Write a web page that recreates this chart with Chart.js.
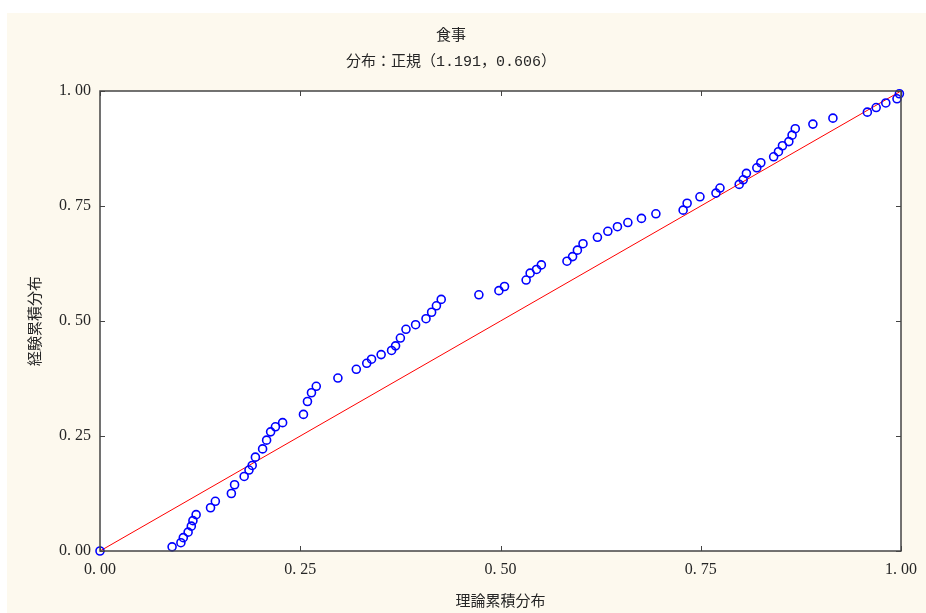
<!DOCTYPE html>
<html>
<head>
    <meta charset="utf-8">
    <title>食事 P-P</title>
    <script src="https://cdn.jsdelivr.net/npm/chart.js@4/dist/chart.umd.min.js"></script>
    <style>
        body { margin: 0; background: #ffffff; }
        #wrap { position: absolute; left: 0; top: 0; width: 926px; height: 613px; }
    </style>
</head>
<body>
<div id="wrap"><canvas id="myChart" width="926" height="613"></canvas></div>
<script>
    var theoretical = [0.000, 0.090, 0.101, 0.104, 0.110, 0.114, 0.116, 0.120, 0.138, 0.144,
        0.164, 0.168, 0.180, 0.186, 0.190, 0.194, 0.203, 0.208, 0.213, 0.219,
        0.228, 0.254, 0.259, 0.264, 0.270, 0.297, 0.320, 0.333, 0.339, 0.351,
        0.364, 0.369, 0.375, 0.382, 0.394, 0.407, 0.414, 0.420, 0.426, 0.473,
        0.498, 0.505, 0.532, 0.537, 0.545, 0.551, 0.583, 0.590, 0.596, 0.603,
        0.621, 0.634, 0.646, 0.659, 0.676, 0.694, 0.728, 0.733, 0.749, 0.769,
        0.774, 0.798, 0.803, 0.807, 0.820, 0.825, 0.841, 0.847, 0.852, 0.860,
        0.864, 0.868, 0.890, 0.915, 0.958, 0.969, 0.981, 0.995, 0.998];
    var empirical = [0.000, 0.009, 0.018, 0.029, 0.041, 0.054, 0.066, 0.079, 0.094, 0.108,
        0.125, 0.144, 0.162, 0.176, 0.186, 0.204, 0.222, 0.241, 0.259, 0.270,
        0.279, 0.297, 0.325, 0.344, 0.358, 0.376, 0.395, 0.408, 0.417, 0.427,
        0.436, 0.446, 0.463, 0.482, 0.492, 0.505, 0.519, 0.533, 0.547, 0.557,
        0.566, 0.575, 0.589, 0.604, 0.612, 0.622, 0.630, 0.640, 0.654, 0.668,
        0.682, 0.695, 0.705, 0.714, 0.723, 0.733, 0.741, 0.756, 0.770, 0.778,
        0.789, 0.797, 0.807, 0.821, 0.833, 0.844, 0.857, 0.868, 0.881, 0.890,
        0.904, 0.918, 0.928, 0.941, 0.954, 0.964, 0.974, 0.983, 0.994];
    var refLine = [0, 1];
    var tickValues = [0, 0.25, 0.5, 0.75, 1];

    var points = [];
    for (var i = 0; i < theoretical.length; i++) {
        points.push({ x: theoretical[i], y: empirical[i] });
    }
    var linePoints = refLine.map(function (v) { return { x: v, y: v }; });

    var textColor = '#262626';
    var numFont = { family: '"Liberation Serif", "Noto Sans CJK JP", serif', size: 16 };
    var jpFont = { family: '"Noto Sans CJK JP", "Liberation Serif", serif', size: 15, weight: 'normal' };
    var subFont = { family: '"Liberation Mono", "Noto Sans CJK JP", monospace', size: 15, weight: 'normal' };

    // panel background + inner ticks on all four sides
    var framePlugin = {
        id: 'frame',
        beforeDraw: function (chart) {
            var c = chart.ctx;
            c.save();
            c.fillStyle = '#ffffff';
            c.fillRect(0, 0, chart.width, chart.height);
            c.fillStyle = '#fdf9ee';
            c.fillRect(7, 13, chart.width - 7, chart.height - 13);
            var a = chart.chartArea;
            c.fillStyle = '#ffffff';
            c.fillRect(a.left, a.top, a.right - a.left, a.bottom - a.top);
            c.restore();
        },
        afterDraw: function (chart) {
            var c = chart.ctx, a = chart.chartArea;
            var xs = chart.scales.x, ys = chart.scales.y;
            c.save();
            c.strokeStyle = '#444444';
            c.lineWidth = 1;
            tickValues.forEach(function (v) {
                var px = Math.round(xs.getPixelForValue(v)) + 0.5;
                var py = Math.round(ys.getPixelForValue(v)) + 0.5;
                c.beginPath();
                c.moveTo(px, a.bottom); c.lineTo(px, a.bottom - 5);
                c.moveTo(px, a.top); c.lineTo(px, a.top + 5);
                c.moveTo(a.left, py); c.lineTo(a.left + 5, py);
                c.moveTo(a.right, py); c.lineTo(a.right - 5, py);
                c.stroke();
            });
            c.lineWidth = 1.5;
            c.strokeRect(a.left, a.top, a.right - a.left, a.bottom - a.top);
            c.restore();
        }
    };

    var ctx = document.getElementById('myChart').getContext('2d');
    var myChart = new Chart(ctx, {
        type: 'scatter',
        data: {
            datasets: [{
                label: '経験累積分布',
                data: points,
                showLine: false,
                pointStyle: 'circle',
                pointRadius: 4,
                pointBorderWidth: 1.6,
                pointBorderColor: '#0000ff',
                pointBackgroundColor: 'rgba(0,0,0,0)',
                order: 1
            }, {
                label: '参照線',
                data: linePoints,
                type: 'line',
                showLine: true,
                borderColor: '#ff0000',
                borderWidth: 1,
                pointRadius: 0,
                fill: false,
                order: 2
            }]
        },
        options: {
            responsive: false,
            animation: false,
            clip: false,
            layout: { padding: { left: 0, right: 24, top: 0, bottom: 0 } },
            plugins: {
                legend: { display: false },
                tooltip: { enabled: false },
                title: {
                    display: true,
                    text: '食事',
                    color: textColor,
                    font: jpFont,
                    padding: { top: 25, bottom: 8 }
                },
                subtitle: {
                    display: true,
                    text: '分布：正規（1.191，0.606）',
                    color: textColor,
                    font: subFont,
                    padding: { top: 2, bottom: 20 }
                }
            },
            scales: {
                x: {
                    type: 'linear',
                    min: 0,
                    max: 1,
                    afterFit: function (s) { s.height = 62; },
                    afterBuildTicks: function (s) {
                        s.ticks = tickValues.map(function (v) { return { value: v }; });
                    },
                    grid: { display: false, drawTicks: false },
                    border: { display: false },
                    ticks: {
                        color: textColor,
                        font: numFont,
                        padding: 9,
                        maxRotation: 0,
                        callback: function (v) { return v.toFixed(2).replace('.', '. '); }
                    },
                    title: {
                        display: true,
                        text: '理論累積分布',
                        color: textColor,
                        font: jpFont,
                        padding: { top: 0, bottom: 4 }
                    }
                },
                y: {
                    type: 'linear',
                    min: 0,
                    max: 1,
                    afterFit: function (s) { s.width = 100; },
                    afterBuildTicks: function (s) {
                        s.ticks = tickValues.map(function (v) { return { value: v }; });
                    },
                    grid: { display: false, drawTicks: false },
                    border: { display: false },
                    ticks: {
                        color: textColor,
                        font: numFont,
                        padding: 9,
                        callback: function (v) { return v.toFixed(2).replace('.', '. '); }
                    },
                    title: {
                        display: true,
                        text: '経験累積分布',
                        color: textColor,
                        font: jpFont,
                        padding: { top: 25, bottom: 0 }
                    }
                }
            }
        },
        plugins: [framePlugin]
    });
</script>
</body>
</html>
